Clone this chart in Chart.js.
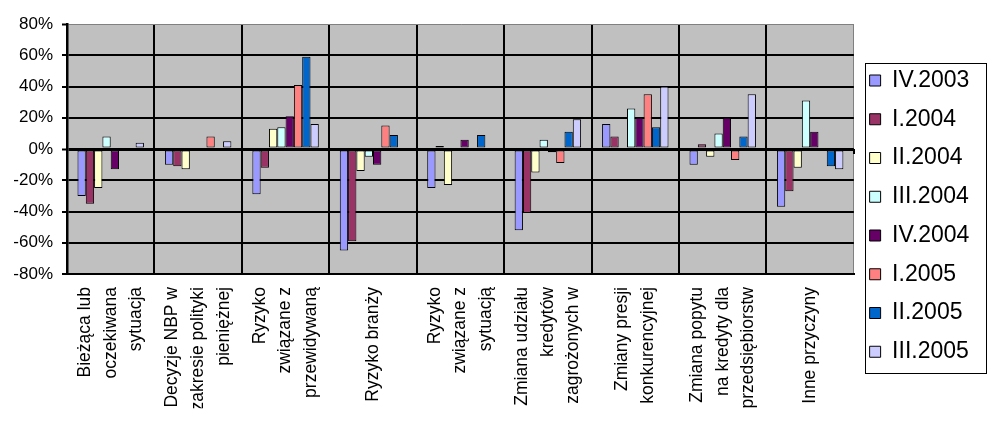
<!DOCTYPE html>
<html lang="pl">
<head>
<meta charset="utf-8">
<title>Czynniki zmian polityki kredytowej</title>
<script src="https://cdn.jsdelivr.net/npm/chart.js@4/dist/chart.umd.min.js"></script>
<style>
  html, body { margin: 0; padding: 0; background: #ffffff; }
  #wrap { width: 988px; height: 424px; }
  canvas { display: block; }
</style>
</head>
<body>
<div id="wrap"><canvas id="chart" width="988" height="424"></canvas></div>
<script>
// Category labels, one array of lines per category
const categories = [
  ['Bieżąca lub', 'oczekiwana', 'sytuacja'],
  ['Decyzje NBP w', 'zakresie polityki', 'pieniężnej'],
  ['Ryzyko', 'związane z', 'przewidywaną'],
  ['Ryzyko branży'],
  ['Ryzyko', 'związane z', 'sytuacją'],
  ['Zmiana udziału', 'kredytów', 'zagrożonych w'],
  ['Zmiany presji', 'konkurencyjnej'],
  ['Zmiana popytu', 'na kredyty dla', 'przedsiębiorstw'],
  ['Inne przyczyny']
];

// Survey quarters shown in the legend
const quarters = ['IV.2003', 'I.2004', 'II.2004', 'III.2004', 'IV.2004', 'I.2005', 'II.2005', 'III.2005'];

// Net percentage for each category, one array per quarter
const q4_2003 = [-30, -10, -29, -65, -25, -52, 16, -10, -37];
const q1_2004 = [-35, -11, -12, -59,   2, -41,  8,   3, -27];
const q2_2004 = [-25, -13,  13, -14, -23, -15,  1,  -5, -12];
const q3_2004 = [  8,   0,  14,  -5,   1,   6, 26,  10,  31];
const q4_2004 = [-13,   0,  21, -10,   6,  -2, 20,  20,  11];
const q1_2005 = [  0,   8,  41,  15,   0,  -9, 35,  -7,   0];
const q2_2005 = [  0,   0,  59,   9,   9,  11, 14,   8, -11];
const q3_2005 = [  4,   5,  16,   0,   0,  19, 40,  35, -13];

// Value axis range and tick step, in percent
const yMin = -80;
const yMax = 80;
const yStep = 20;

const seriesValues = [q4_2003, q1_2004, q2_2004, q3_2004, q4_2004, q1_2005, q2_2005, q3_2005];
const seriesColors = ['#9999FF', '#993366', '#FFFFCC', '#CCFFFF', '#660066', '#FF8080', '#0066CC', '#CCCCFF'];
const FONT = "'Liberation Sans', Arial, sans-serif";

// Grey plot area behind the bars
const plotBackground = {
  id: 'plotBackground',
  beforeDraw(chart) {
    const { ctx, chartArea: a } = chart;
    ctx.save();
    ctx.fillStyle = '#c0c0c0';
    ctx.fillRect(a.left, a.top, a.right - a.left, a.bottom - a.top);
    ctx.restore();
  }
};

// Multi-line category labels: centre each block of lines on its category
const centreLabelBlocks = {
  id: 'centreLabelBlocks',
  beforeDraw(chart) {
    const scale = chart.scales.x;
    if (!scale || typeof scale.getLabelItems !== 'function') return;
    const items = scale.getLabelItems();
    if (!items || items._centred) return;
    items.forEach(item => {
      const lines = Array.isArray(item.label) ? item.label.length : 1;
      if (item.options && item.options.translation) {
        item.options.translation[0] -= (lines - 1) * item.font.lineHeight / 2;
      }
    });
    items._centred = true;
  }
};

// Thin frame around the legend entries
const legendFrame = {
  id: 'legendFrame',
  afterDraw(chart) {
    const boxes = chart.legend && chart.legend.legendHitBoxes;
    if (!boxes || !boxes.length) return;
    const first = boxes[0];
    const last = boxes[boxes.length - 1];
    const left = Math.round(first.left - 5) + 0.5;
    const top = Math.round(first.top - 6) + 0.5;
    const bottom = Math.round(last.top + last.height + 10) + 0.5;
    const right = chart.width - 1.5;
    const ctx = chart.ctx;
    ctx.save();
    ctx.strokeStyle = '#000000';
    ctx.lineWidth = 1;
    ctx.strokeRect(left, top, right - left, bottom - top);
    ctx.restore();
  }
};

new Chart(document.getElementById('chart'), {
  type: 'bar',
  data: {
    labels: categories,
    datasets: quarters.map((name, i) => ({
      label: name,
      data: seriesValues[i],
      backgroundColor: seriesColors[i],
      xAxisID: 'x',
      yAxisID: 'y'
    }))
  },
  options: {
    responsive: false,
    animation: false,
    layout: { padding: { top: 24, bottom: 15.75, left: 0, right: 8.7 } },
    datasets: {
      bar: {
        categoryPercentage: 0.76,
        barPercentage: 1,
        borderColor: '#000000',
        borderWidth: 1,
        borderSkipped: false
      }
    },
    plugins: {
      legend: {
        position: 'right',
        align: 'center',
        labels: {
          color: '#000000',
          font: { family: FONT, size: 23 },
          boxWidth: 11,
          boxHeight: 11,
          padding: 15.75
        }
      },
      tooltip: { enabled: false }
    },
    scales: {
      x: {
        type: 'category',
        offset: true,
        grid: {
          offset: true,
          drawTicks: false,
          color: c => (c.type === 'tick' ? '#000000' : '#808080'),
          lineWidth: c => (c.type === 'tick' ? 2 : 1)
        },
        border: { display: true, color: '#000000', width: 2 },
        ticks: {
          autoSkip: false,
          minRotation: 90,
          maxRotation: 90,
          padding: 13,
          color: '#000000',
          font: { family: FONT, size: 17.5, lineHeight: 1.46 }
        },
        afterFit: s => { s.height = 134.25; }
      },
      xz: {
        type: 'category',
        axis: 'x',
        position: { y: 0 },
        offset: true,
        grid: {
          offset: true,
          drawOnChartArea: false,
          drawTicks: true,
          tickLength: 5,
          color: '#000000',
          lineWidth: 2
        },
        border: { display: false },
        ticks: { display: false },
        afterFit: s => { s.height = 0; }
      },
      y: {
        min: yMin,
        max: yMax,
        ticks: {
          stepSize: yStep,
          callback: v => v + '%',
          padding: 9,
          color: '#000000',
          font: { family: FONT, size: 17 }
        },
        grid: {
          color: c => (c.tick && c.tick.value === yMax ? '#808080' : '#000000'),
          lineWidth: c => {
            if (!c.tick) return 2;
            if (c.tick.value === 0) return 3;
            if (c.tick.value === yMax) return 1;
            return 2;
          },
          tickLength: 5,
          tickColor: '#000000',
          tickWidth: 2
        },
        border: { color: '#000000', width: 2.5 },
        afterFit: s => { s.width = 67; }
      }
    }
  },
  plugins: [plotBackground, centreLabelBlocks, legendFrame]
});
</script>
</body>
</html>
